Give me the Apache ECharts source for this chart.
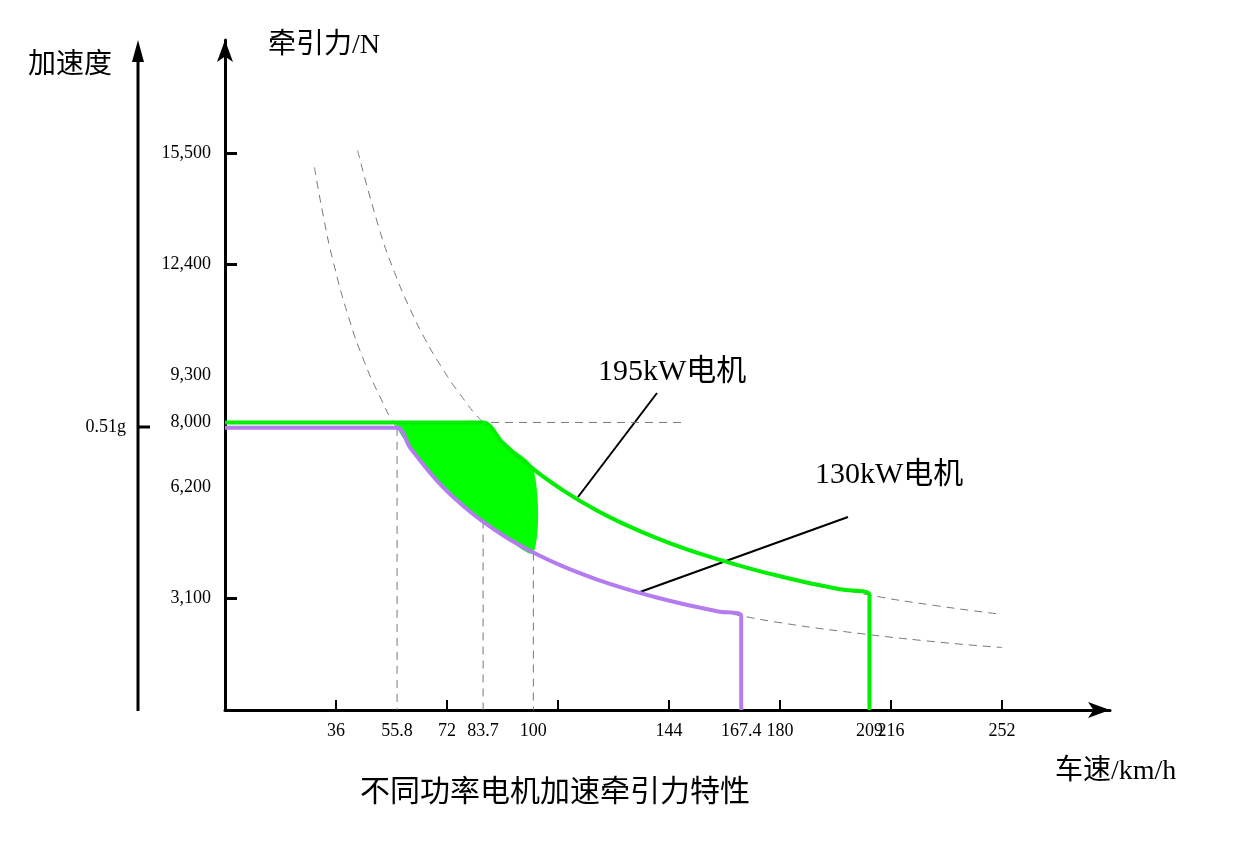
<!DOCTYPE html>
<html>
<head>
  <meta charset="utf-8">
  <script src="https://cdn.jsdelivr.net/npm/echarts@6/dist/echarts.min.js"></script>
  <style>
    body { margin: 0; padding: 0; background: #fff; }
    #main { width: 1256px; height: 842px; }
  </style>
</head>
<body>
<div id="main"></div>
<script>
  // tick labels
  var xLabels = [36, 55.8, 72, 83.7, 100, 144, 167.4, 180, 209, 216, 252];
  var xTicks = [36, 72, 108, 144, 180, 216, 252];
  var yLabels = [3100, 6200, 8000, 9300, 12400, 15500];
  var yTicks = [3100, 8000, 12400, 15500];

  // 195kW motor: [speed km/h, force N]
  var motor195 = [[0, 8000], [83.7, 8000], [90, 7440], [100, 6700], [110, 6090], [120, 5580],
    [130, 5150], [140, 4780], [150, 4460], [160, 4190], [170, 3940], [180, 3720],
    [190, 3520], [200, 3350], [209, 3200], [209, 0]];
  // 130kW motor
  var motor130 = [[0, 7850], [55.8, 7850], [60, 7300], [70, 6260], [80, 5480], [90, 4870],
    [100, 4380], [110, 3980], [120, 3650], [130, 3370], [140, 3130], [150, 2920],
    [160, 2740], [167.4, 2620], [167.4, 0]];
  // dashed constant-power curves
  var dash195 = [[43, 15570], [50, 13390], [55, 12170], [60, 11160], [65, 10300], [70, 9570],
    [76, 8810], [83.7, 8000], [100, 6700], [120, 5580], [140, 4780], [160, 4190],
    [180, 3720], [209, 3200], [230, 2910], [252, 2660]];
  var dash130 = [[29, 15100], [32, 13690], [35, 12510], [40, 10950], [45, 9730], [50, 8760],
    [55.8, 7850], [70, 6260], [90, 4870], [110, 3980], [130, 3370], [150, 2920],
    [167.4, 2620], [180, 2430], [200, 2190], [230, 1900], [252, 1740]];
  // shaded gain region (55.8 .. 100 km/h)
  var fillTop = [[55.8, 8000], [70, 8000], [83.7, 8000], [90, 7440], [100, 6700]];
  var fillBottom = [[55.8, 7850], [60, 7300], [70, 6260], [80, 5480], [90, 4870], [100, 4380]];
  // guide lines
  var guide8000 = [[0, 8000], [149, 8000]];
  var guide558 = [[55.8, 7850], [55.8, 0]];
  var guide837 = [[83.7, 8000], [83.7, 0]];
  var guide100 = [[100, 4380], [100, 0]];

  var chart = echarts.init(document.getElementById('main'));
  var font = '"Liberation Serif", "Noto Sans CJK SC", serif';
  var dashStyle = { color: '#777', width: 1, type: [8, 6] };

  function dashSeries(data) {
    return { type: 'line', data: data, showSymbol: false, smooth: true, lineStyle: dashStyle, silent: true, z: 1 };
  }
  function guideSeries(data) {
    return { type: 'line', data: data, showSymbol: false, lineStyle: dashStyle, silent: true, z: 1 };
  }

  chart.setOption({
    animation: false,
    grid: { left: 225, right: 146, top: 40, bottom: 132 },
    xAxis: {
      type: 'value', min: 0, max: 287,
      splitLine: { show: false },
      axisLine: { lineStyle: { color: '#000', width: 3 }, symbol: ['none', 'arrow'], symbolSize: [12, 22] },
      axisTick: { inside: true, length: 10, lineStyle: { color: '#000', width: 2 }, customValues: xTicks },
      axisLabel: { customValues: xLabels, color: '#000', fontSize: 18, fontFamily: font, margin: 12 }
    },
    yAxis: {
      type: 'value', min: 0, max: 18640,
      splitLine: { show: false },
      axisLine: { lineStyle: { color: '#000', width: 3 }, symbol: ['none', 'arrow'], symbolSize: [12, 22] },
      axisTick: { inside: true, length: 12, lineStyle: { color: '#000', width: 3 }, customValues: yTicks },
      axisLabel: { customValues: yLabels, color: '#000', fontSize: 18, fontFamily: font, margin: 14 }
    },
    series: [
      dashSeries(dash195),
      dashSeries(dash130),
      guideSeries(guide8000),
      guideSeries(guide558),
      guideSeries(guide837),
      guideSeries(guide100),
      {
        type: 'custom', silent: true, z: 2, data: [0],
        renderItem: function (params, api) {
          var pts = fillTop.map(function (p) { return api.coord(p); });
          fillBottom.slice().reverse().forEach(function (p) { pts.push(api.coord(p)); });
          return { type: 'polygon', shape: { points: pts, smooth: 0.3 }, style: { fill: '#00ff00' } };
        }
      },
      { type: 'line', data: motor130, showSymbol: false, smooth: 0.3, lineStyle: { color: '#b57cf0', width: 4 }, z: 3 },
      { type: 'line', data: motor195, showSymbol: false, smooth: 0.3, lineStyle: { color: '#00ee00', width: 4 }, z: 4 }
    ],
    graphic: [
      { type: 'line', shape: { x1: 138, y1: 711, x2: 138, y2: 58 }, style: { stroke: '#000', lineWidth: 3 } },
      { type: 'polygon', shape: { points: [[132, 62], [138, 40], [144, 62]] }, style: { fill: '#000' } },
      { type: 'line', shape: { x1: 138, y1: 427, x2: 150, y2: 427 }, style: { stroke: '#000', lineWidth: 3 } },
      { type: 'text', x: 126, y: 427, style: { text: '0.51g', fill: '#000', font: '18px ' + font, align: 'right', verticalAlign: 'middle' } },
      { type: 'text', x: 28, y: 52, style: { text: '加速度', fill: '#000', font: '28px ' + font } },
      { type: 'text', x: 268, y: 32, style: { text: '牵引力/N', fill: '#000', font: '28px ' + font } },
      { type: 'text', x: 1055, y: 758, style: { text: '车速/km/h', fill: '#000', font: '28px ' + font } },
      { type: 'text', x: 360, y: 778, style: { text: '不同功率电机加速牵引力特性', fill: '#000', font: '30px ' + font } },
      { type: 'text', x: 598, y: 357, style: { text: '195kW电机', fill: '#000', font: '30px ' + font } },
      { type: 'text', x: 815, y: 460, style: { text: '130kW电机', fill: '#000', font: '30px ' + font } },
      { type: 'line', shape: { x1: 657, y1: 393, x2: 578, y2: 497 }, style: { stroke: '#000', lineWidth: 2 } },
      { type: 'line', shape: { x1: 848, y1: 517, x2: 640, y2: 592 }, style: { stroke: '#000', lineWidth: 2 } }
    ]
  });
</script>
</body>
</html>
